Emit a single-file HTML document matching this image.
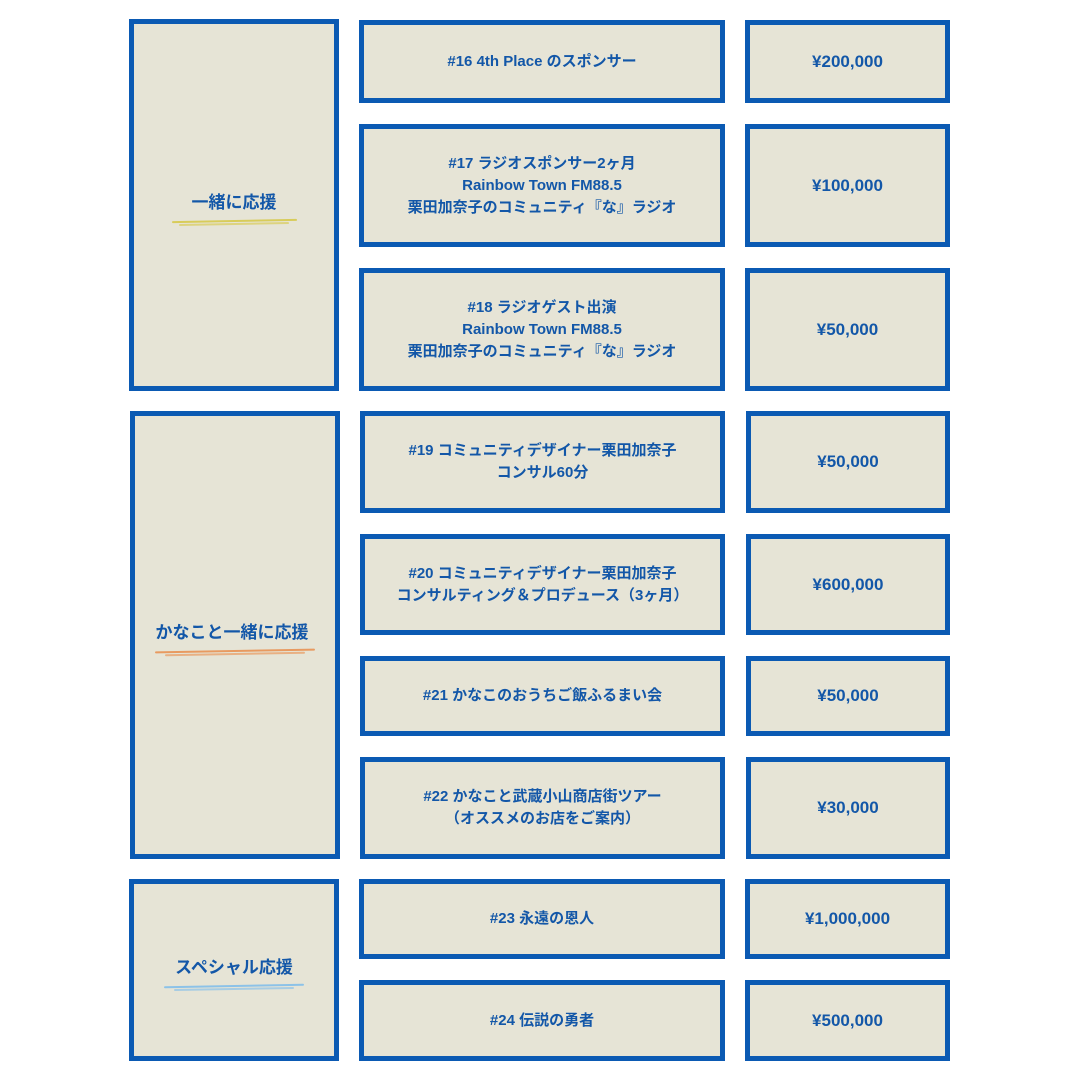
<!DOCTYPE html>
<html><head><meta charset="utf-8"><style>
body{margin:0;width:1080px;height:1080px;background:#fff;position:relative;overflow:hidden;font-family:"Liberation Sans","Noto Sans CJK JP",sans-serif;}
.b{position:absolute;box-sizing:border-box;border:5px solid #0b5ab3;background:#e6e4d6;display:flex;align-items:center;justify-content:center;text-align:center;color:#1357a8;font-weight:bold;font-size:15px;line-height:22px;}
.l{font-size:17px;flex-direction:column}
.u{display:block;height:2px;border-radius:2px;transform:rotate(-1deg)}
</style></head><body>
<div class="b l" style="left:129px;top:19px;width:210px;height:372px"><span style="margin-top:6px">一緒に応援</span><span class="u" style="width:125px;margin-top:6px;background:#d8cc5a"></span><span class="u" style="width:110px;margin-top:1px;background:#d8cc5a;opacity:.7"></span></div>
<div class="b l" style="left:130px;top:411px;width:210px;height:448px"><span style="margin-top:6px;margin-right:6px">かなこと一緒に応援</span><span class="u" style="width:160px;margin-top:6px;background:#e89a60"></span><span class="u" style="width:140px;margin-top:1px;background:#e89a60;opacity:.7"></span></div>
<div class="b l" style="left:129px;top:879px;width:210px;height:182px"><span style="margin-top:6px">スペシャル応援</span><span class="u" style="width:140px;margin-top:6px;background:#8cc2e8"></span><span class="u" style="width:120px;margin-top:1px;background:#8cc2e8;opacity:.7"></span></div>

<div class="b" style="left:359px;top:20px;width:366px;height:83px">#16 4th Place のスポンサー</div>
<div class="b" style="left:745px;top:20px;width:205px;height:83px;font-size:17px">¥200,000</div>
<div class="b" style="left:359px;top:124px;width:366px;height:123px">#17 ラジオスポンサー2ヶ月<br>Rainbow Town FM88.5<br>栗田加奈子のコミュニティ『な』ラジオ</div>
<div class="b" style="left:745px;top:124px;width:205px;height:123px;font-size:17px">¥100,000</div>
<div class="b" style="left:359px;top:268px;width:366px;height:123px">#18 ラジオゲスト出演<br>Rainbow Town FM88.5<br>栗田加奈子のコミュニティ『な』ラジオ</div>
<div class="b" style="left:745px;top:268px;width:205px;height:123px;font-size:17px">¥50,000</div>
<div class="b" style="left:360px;top:411px;width:365px;height:102px">#19 コミュニティデザイナー栗田加奈子<br>コンサル60分</div>
<div class="b" style="left:746px;top:411px;width:204px;height:102px;font-size:17px">¥50,000</div>
<div class="b" style="left:360px;top:534px;width:365px;height:101px">#20 コミュニティデザイナー栗田加奈子<br>コンサルティング＆プロデュース（3ヶ月）</div>
<div class="b" style="left:746px;top:534px;width:204px;height:101px;font-size:17px">¥600,000</div>
<div class="b" style="left:360px;top:656px;width:365px;height:80px">#21 かなこのおうちご飯ふるまい会</div>
<div class="b" style="left:746px;top:656px;width:204px;height:80px;font-size:17px">¥50,000</div>
<div class="b" style="left:360px;top:757px;width:365px;height:102px">#22 かなこと武蔵小山商店街ツアー<br>（オススメのお店をご案内）</div>
<div class="b" style="left:746px;top:757px;width:204px;height:102px;font-size:17px">¥30,000</div>
<div class="b" style="left:359px;top:879px;width:366px;height:80px">#23 永遠の恩人</div>
<div class="b" style="left:745px;top:879px;width:205px;height:80px;font-size:17px">¥1,000,000</div>
<div class="b" style="left:359px;top:980px;width:366px;height:81px">#24 伝説の勇者</div>
<div class="b" style="left:745px;top:980px;width:205px;height:81px;font-size:17px">¥500,000</div>
</body></html>
